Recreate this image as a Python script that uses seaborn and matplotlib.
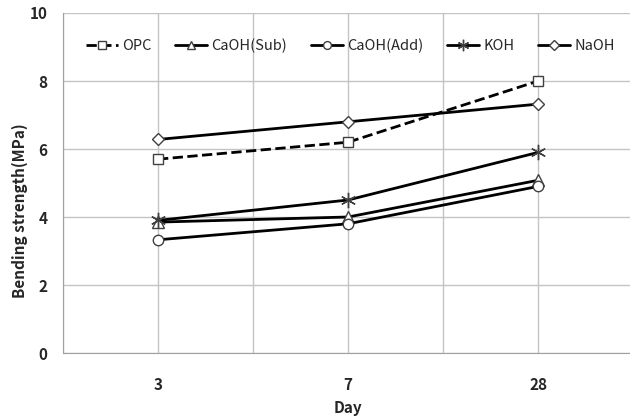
import matplotlib
matplotlib.use("Agg")
import matplotlib.pyplot as plt
import numpy as np
import pandas as pd
import seaborn as sns

# data
days = ["3", "7", "28"]
opc = [5.7, 6.2, 8.0]
caoh_sub = [3.85, 4.0, 5.08]
caoh_add = [3.33, 3.8, 4.9]
koh = [3.9, 4.5, 5.9]
naoh = [6.28, 6.8, 7.32]

series = {
    "OPC": opc,
    "CaOH(Sub)": caoh_sub,
    "CaOH(Add)": caoh_add,
    "KOH": koh,
    "NaOH": naoh,
}
styles = {
    "OPC": dict(marker="s", ls="--", ms=7),
    "CaOH(Sub)": dict(marker="^", ls="-", ms=8),
    "CaOH(Add)": dict(marker="o", ls="-", ms=7.5),
    "KOH": dict(marker=(6, 2, 0), ls="-", ms=11),
    "NaOH": dict(marker="D", ls="-", ms=6.5),
}

sns.set_style("white")
plt.rcParams["font.family"] = ["Noto Sans CJK KR", "DejaVu Sans"]

fig = plt.figure(figsize=(6.3, 4.18), dpi=100)
ax = fig.add_axes([0.1, 0.1555, 0.905, 0.8134])

for name, vals in series.items():
    df = pd.DataFrame({"day": days, "value": vals})
    st = styles[name]
    sns.lineplot(data=df, x="day", y="value", ax=ax, color="black", lw=2,
                 linestyle=st["ls"], marker=st["marker"], markersize=st["ms"],
                 markerfacecolor="white", markeredgecolor="#404040",
                 markeredgewidth=1.0, label=name, sort=False)

ax.set_xlim(-0.5, 2.5)
ax.set_ylim(0, 10)
ax.set_yticks(np.arange(0, 11, 2))
ax.set_xticks([0, 1, 2])
ax.set_xticklabels(days)
ax.set_xticks([-0.5, 0.5, 1.5, 2.5], minor=True)
ax.grid(True, which="both", color="#c4c4c4", lw=1)
ax.set_axisbelow(True)

for s in ["top", "right"]:
    ax.spines[s].set_visible(False)
for s in ["left", "bottom"]:
    ax.spines[s].set_color("#a0a0a0")

ax.tick_params(axis="x", which="major", length=0, pad=17)
ax.tick_params(axis="x", which="minor", length=6, color="#808080", direction="out")
ax.tick_params(axis="y", length=5, color="#a0a0a0", direction="out", pad=6)
for lab in ax.get_xticklabels() + ax.get_yticklabels():
    lab.set_fontweight("bold")
    lab.set_fontsize(11)

ax.set_xlabel("Day", fontsize=11, fontweight="bold")
ax.xaxis.set_label_coords(0.5, -0.138)
ax.set_ylabel("Bending strength(MPa)", fontsize=11, fontweight="bold")
ax.yaxis.set_label_coords(-0.062, 0.42)

ax.legend(loc="upper center", bbox_to_anchor=(0.556, 0.94), bbox_transform=fig.transFigure,
          ncol=5, frameon=False, fontsize=10.5, handlelength=2.2, handletextpad=0.3,
          columnspacing=1.6, markerscale=0.75)

fig.savefig("out.png", dpi=100)
